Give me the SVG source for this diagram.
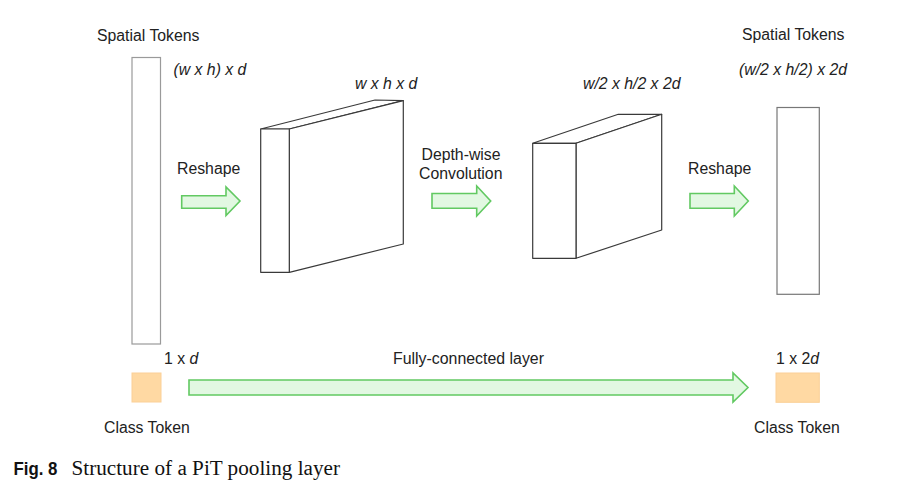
<svg xmlns="http://www.w3.org/2000/svg" width="912" height="498" viewBox="0 0 912 498">
<style>
text{font-family:"Liberation Sans",Arial,sans-serif;font-size:15.8px;fill:#222}
.it{font-style:italic}
.tok{fill:#fff;stroke:#9a9a9a;stroke-width:1.2}
.cube{fill:#fff;stroke:#3a3a3a;stroke-width:1.2;stroke-linejoin:round}
.arr{fill:#e2f8e2;stroke:#62c962;stroke-width:1.6;stroke-linejoin:miter}
.cls{fill:#ffd9a3;stroke:#fbd097;stroke-width:1}
.cap{font-family:"Liberation Serif","Times New Roman",serif;font-size:20.5px;fill:#111}
.fig{font-family:"Liberation Sans",Arial,sans-serif;font-weight:bold;font-size:18px;fill:#111}
</style>
<rect width="912" height="498" fill="#fff"/>

<g id="spatial-in">
<text x="97" y="40.5">Spatial Tokens</text>
<rect class="tok" x="132" y="57.5" width="28.5" height="286.5"/>
<text class="it" x="173.5" y="75">(w x h) x d</text>
</g>

<g id="cube1">
<polygon class="cube" points="260.7,129 375,100 403.3,100.7 289.3,129"/>
<polygon class="cube" points="289.3,129 403.3,100.7 403.3,244 289.3,272.3"/>
<rect class="cube" x="260.7" y="129" width="28.6" height="143.3"/>
<text class="it" x="355" y="89">w x h x d</text>
</g>

<g id="cube2">
<polygon class="cube" points="532.7,143.3 618.3,114.3 661.7,114.3 576,143.3"/>
<polygon class="cube" points="576,143.3 661.7,114.3 661.7,230 576,258.3"/>
<rect class="cube" x="532.7" y="143.3" width="43.3" height="115"/>
<text class="it" x="583" y="88.5">w/2 x h/2 x 2d</text>
</g>

<g id="spatial-out">
<text x="742" y="40">Spatial Tokens</text>
<text class="it" x="739" y="75">(w/2 x h/2) x 2d</text>
<rect x="777" y="107.5" width="42.3" height="186.8" fill="#fff" stroke="#777" stroke-width="1.2"/>
</g>

<g id="class-in">
<rect class="cls" x="132" y="373" width="29" height="29"/>
<text x="164" y="364">1 x <tspan class="it">d</tspan></text>
<text x="104" y="433">Class Token</text>
</g>

<g id="class-out">
<rect class="cls" x="776" y="373" width="43.3" height="29.3"/>
<text x="776" y="363.5">1 x 2<tspan class="it">d</tspan></text>
<text x="754" y="433">Class Token</text>
</g>

<g id="connectors">
<polygon class="arr" points="181.7,195.7 226,195.7 226,187 240,201 226,215.5 226,208.3 181.7,208.3"/>
<text x="177" y="174">Reshape</text>
<polygon class="arr" points="432,193.5 476.7,193.5 476.7,186 490.7,201 476.7,216 476.7,208.3 432,208.3"/>
<text x="421.5" y="160">Depth-wise</text>
<text x="419" y="179">Convolution</text>
<polygon class="arr" points="690,193.5 734.3,193.5 734.3,186 748.3,201 734.3,216 734.3,208.3 690,208.3"/>
<text x="688" y="173.5">Reshape</text>
<polygon class="arr" points="189,380 733,380 733,373 748,387.5 733,402 733,395 189,395"/>
<text x="393" y="363.5" textLength="151" lengthAdjust="spacingAndGlyphs">Fully-connected layer</text>
</g>

<g id="caption">
<text class="fig" x="13.5" y="474.5" textLength="44" lengthAdjust="spacingAndGlyphs">Fig. 8</text>
<text class="cap" x="71.5" y="474.5" textLength="268.5" lengthAdjust="spacingAndGlyphs">Structure of a PiT pooling layer</text>
</g>
</svg>
